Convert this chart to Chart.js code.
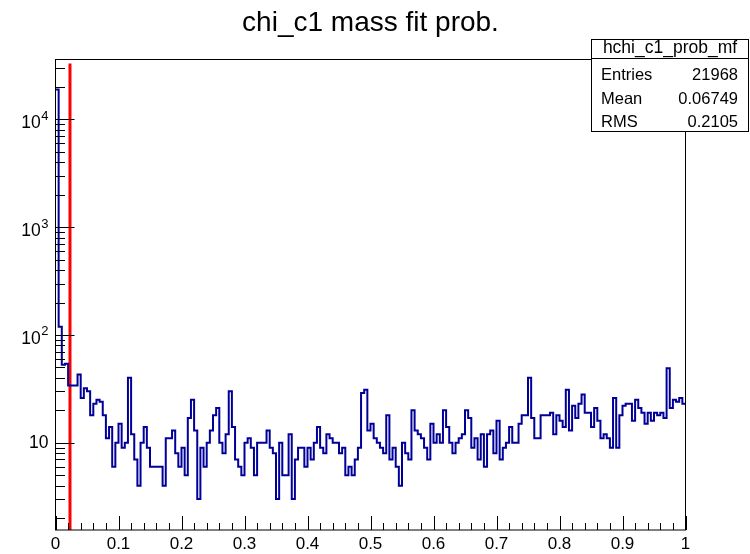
<!DOCTYPE html>
<html>
<head>
<meta charset="utf-8">
<script src="https://cdn.jsdelivr.net/npm/chart.js@4/dist/chart.umd.min.js"></script>
<style>
  html, body { margin: 0; padding: 0; background: #fff; }
  canvas { display: block; }
</style>
</head>
<body>
<canvas id="chart" width="750" height="554"></canvas>
<script>
// chi_c1 mass fit probability, 200 bins over [0, 1]
const xMin = 0
const xMax = 1
const binCount = 200

// entries per bin, left to right
const counts = [
  18987, 119, 53, 54, 34, 34, 34, 43, 26, 32,
  30, 18, 23, 25, 24, 18, 11, 14, 6, 10,
  15, 9, 10, 40, 12, 7, 4, 10, 14, 9,
  6, 6, 6, 6, 4, 11, 11, 13, 8, 6,
  9, 5, 17, 25, 13, 3, 9, 6, 10, 13,
  18, 21, 10, 8, 12, 30, 14, 7, 6, 5,
  10, 11, 9, 5, 10, 10, 10, 13, 9, 8,
  3, 10, 5, 5, 12, 3, 7, 9, 9, 6,
  9, 7, 10, 14, 9, 8, 12, 11, 10, 10,
  8, 9, 5, 6, 5, 7, 9, 29, 31, 13,
  15, 11, 10, 9, 8, 18, 7, 9, 6, 4,
  10, 8, 7, 20, 13, 12, 11, 9, 7, 15,
  10, 12, 10, 20, 14, 10, 8, 10, 11, 12,
  20, 17, 9, 11, 7, 12, 6, 12, 13, 8,
  16, 7, 9, 10, 14, 10, 10, 15, 18, 18,
  40, 17, 11, 11, 18, 18, 18, 19, 12, 18,
  16, 14, 31, 13, 22, 17, 23, 28, 19, 19,
  14, 21, 16, 11, 12, 11, 9, 26, 9, 18,
  22, 23, 23, 16, 25, 21, 19, 15, 19, 16,
  19, 18, 19, 17, 49, 21, 25, 24, 26, 23
]

const xTicks = [0, 0.1, 0.2, 0.3, 0.4, 0.5, 0.6, 0.7, 0.8, 0.9, 1]
const xTickLabels = ['0', '0.1', '0.2', '0.3', '0.4', '0.5', '0.6', '0.7', '0.8', '0.9', '1']
const yTicks = [10, 100, 1000, 10000]
const yTickExponents = ['', '2', '3', '4']
const yMin = 1.55
const yMax = 36000

// selection cut drawn as a red line
const cutValue = 0.023
const cutTop = 33000

const title = 'chi_c1 mass fit prob.'
const statsName = 'hchi_c1_prob_mf'
const statsLabels = ['Entries', 'Mean', 'RMS']
const statsValues = ['21968', '0.06749', '0.2105']

const FONT = "'Liberation Sans', Arial, Helvetica, sans-serif"
Chart.defaults.font.family = FONT
Chart.defaults.color = '#000'

// left bin edges plus the closing edge, for a stepped outline
const binWidth = (xMax - xMin) / binCount
const histPoints = counts.map((c, i) => ({ x: xMin + i * binWidth, y: c }))
histPoints.push({ x: xMax, y: counts[counts.length - 1] })

// ROOT style frame with ticks pointing into the pad, plus the 10^n labels
const rootFrame = {
    id: 'rootFrame',
    afterDatasetsDraw(chart) {
        const { ctx, chartArea: a, scales: { x, y } } = chart
        ctx.save()
        ctx.strokeStyle = '#000'
        ctx.lineWidth = 1
        ctx.strokeRect(a.left, a.top, a.right - a.left, a.bottom - a.top)

        ctx.beginPath()
        for (let i = 0; i < xTicks.length; i++) {
            const px = Math.round(x.getPixelForValue(xTicks[i])) + 0.5
            ctx.moveTo(px, a.bottom)
            ctx.lineTo(px, a.bottom - 14)
            if (i < xTicks.length - 1) {
                const step = (xTicks[i + 1] - xTicks[i]) / 5
                for (let k = 1; k < 5; k++) {
                    const mx = Math.round(x.getPixelForValue(xTicks[i] + k * step)) + 0.5
                    ctx.moveTo(mx, a.bottom)
                    ctx.lineTo(mx, a.bottom - 7)
                }
            }
        }
        for (let d = 1; d <= 10000; d *= 10) {
            for (let m = 1; m < 10; m++) {
                const v = d * m
                if (v < yMin || v > yMax) continue
                const py = Math.round(y.getPixelForValue(v)) + 0.5
                ctx.moveTo(a.left, py)
                ctx.lineTo(a.left + (m === 1 ? 19 : 9.5), py)
            }
        }
        ctx.stroke()

        // decade labels: "10" with a raised exponent, right aligned
        ctx.fillStyle = '#000'
        ctx.textAlign = 'right'
        yTicks.forEach((v, i) => {
            const ty = y.getPixelForValue(v)
            const right = a.left - 7
            const exp = yTickExponents[i]
            let expWidth = 0
            if (exp) {
                ctx.font = `13px ${FONT}`
                ctx.textBaseline = 'alphabetic'
                ctx.fillText(exp, right, ty + 0.5)
                expWidth = ctx.measureText(exp).width + 0.5
            }
            ctx.font = `17.5px ${FONT}`
            ctx.textBaseline = 'middle'
            ctx.fillText('10', right - expWidth, ty + (exp ? 4 : 0.5))
        })

        ctx.font = `28px ${FONT}`
        ctx.textAlign = 'center'
        ctx.textBaseline = 'middle'
        ctx.fillText(title, 370.5, 23)
        ctx.restore()
    }
}

const statsBox = {
    id: 'statsBox',
    afterDraw(chart) {
        const ctx = chart.ctx
        const left = 591.5, top = 39.5, right = 748.5, bottom = 131.5, split = 58.5
        ctx.save()
        ctx.fillStyle = '#fff'
        ctx.fillRect(left, top, right - left, bottom - top)
        ctx.strokeStyle = '#000'
        ctx.lineWidth = 1
        ctx.strokeRect(left, top, right - left, bottom - top)
        ctx.beginPath()
        ctx.moveTo(left, split)
        ctx.lineTo(right, split)
        ctx.stroke()

        ctx.fillStyle = '#000'
        ctx.textBaseline = 'alphabetic'
        ctx.textAlign = 'center'
        ctx.font = `17.5px ${FONT}`
        ctx.fillText(statsName, (left + right) / 2, 52.5)
        ctx.font = `16.5px ${FONT}`
        statsLabels.forEach((label, i) => {
            const base = 80 + i * 23.5
            ctx.textAlign = 'left'
            ctx.fillText(label, 601, base)
            ctx.textAlign = 'right'
            ctx.fillText(statsValues[i], 738, base)
        })
        ctx.restore()
    }
}

new Chart(document.getElementById('chart'), {
    type: 'line',
    data: {
        datasets: [
            {
                data: histPoints,
                stepped: 'before',
                borderColor: '#000099',
                borderWidth: 2,
                pointRadius: 0,
                fill: false
            },
            {
                data: [{ x: cutValue, y: yMin }, { x: cutValue, y: cutTop }],
                borderColor: '#ff0000',
                borderWidth: 3,
                pointRadius: 0,
                fill: false
            }
        ]
    },
    options: {
        responsive: false,
        animation: false,
        devicePixelRatio: 1,
        layout: { padding: { top: 59.5, right: 64.5, bottom: 0, left: 0 } },
        plugins: {
            legend: { display: false },
            tooltip: { enabled: false },
            title: { display: false }
        },
        scales: {
            x: {
                type: 'linear',
                min: xMin,
                max: xMax,
                afterBuildTicks: scale => { scale.ticks = xTicks.map(v => ({ value: v })) },
                afterFit: scale => { scale.height = 24 },
                grid: { display: false, drawTicks: false },
                border: { display: false },
                ticks: {
                    autoSkip: false,
                    maxRotation: 0,
                    padding: 4,
                    font: { size: 17 },
                    callback: (v, i) => xTickLabels[i]
                }
            },
            y: {
                type: 'logarithmic',
                min: yMin,
                max: yMax,
                afterBuildTicks: scale => { scale.ticks = yTicks.map(v => ({ value: v })) },
                afterFit: scale => { scale.width = 55.5 },
                grid: { display: false, drawTicks: false },
                border: { display: false },
                ticks: { display: false }
            }
        }
    },
    plugins: [rootFrame, statsBox]
})
</script>
</body>
</html>
